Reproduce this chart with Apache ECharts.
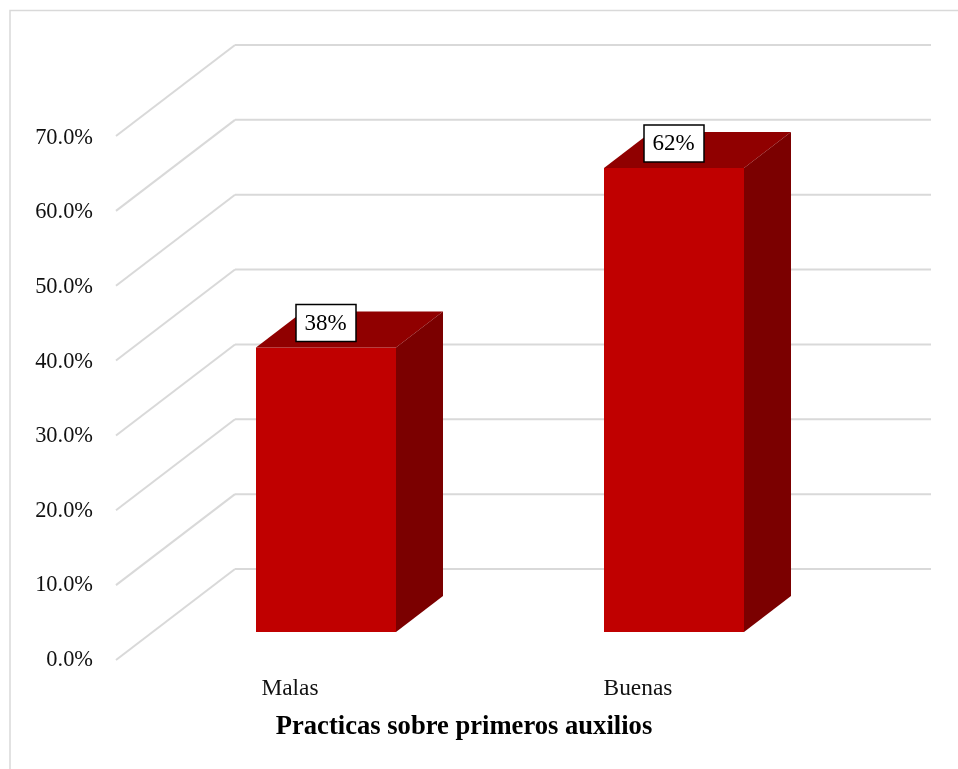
<!DOCTYPE html>
<html>
<head>
<meta charset="utf-8">
<style>html,body{margin:0;padding:0;background:#fff}#chart{width:958px;height:769px}</style>
<script src="https://cdn.jsdelivr.net/npm/echarts@6/dist/echarts.min.js"></script>
</head>
<body>
<div id="chart"></div>
<script>
const categories = ['Malas', 'Buenas'];
const percentages = [38, 62];
const percentTicks = [0, 10, 20, 30, 40, 50, 60, 70];
const axisTitle = 'Practicas sobre primeros auxilios';

// Oblique projection: how far the back wall and the bar faces sit from the front plane.
const WALL = { dx: 119, dy: -91 };
const BAR_FRONT = { dx: 36, dy: -28 };
const BAR_BACK = { dx: 83, dy: -64 };
const BAR_WIDTH = 140;
const FONT = '"Liberation Serif", "Times New Roman", serif';

function renderWall(params, api) {
  const sys = params.coordSys;
  const y = api.coord([0, api.value(1)])[1];
  const bx = sys.x + WALL.dx, by = y + WALL.dy;
  return {
    type: 'group',
    children: [
      { type: 'line', shape: { x1: sys.x, y1: y, x2: bx, y2: by },
        style: { stroke: '#d9d9d9', lineWidth: 2 } },
      { type: 'line', shape: { x1: bx, y1: by, x2: sys.x + sys.width + WALL.dx, y2: by },
        style: { stroke: '#d9d9d9', lineWidth: 2 } }
    ]
  };
}

function renderBar(params, api) {
  const value = api.value(1);
  const base = api.coord([api.value(0), 0]);
  const tip = api.coord([api.value(0), value]);
  const l = base[0] - BAR_WIDTH / 2 + BAR_FRONT.dx;
  const r = l + BAR_WIDTH;
  const b = base[1] + BAR_FRONT.dy;
  const t = tip[1] + BAR_FRONT.dy;
  const ox = BAR_BACK.dx - BAR_FRONT.dx;
  const oy = BAR_BACK.dy - BAR_FRONT.dy;
  const cx = (l + r) / 2;
  const cy = t - 25;
  return {
    type: 'group',
    children: [
      { type: 'rect', shape: { x: l, y: t, width: BAR_WIDTH, height: b - t },
        style: { fill: '#c00000' } },
      { type: 'polygon', shape: { points: [[l, t], [r, t], [r + ox, t + oy], [l + ox, t + oy]] },
        style: { fill: '#900000' } },
      { type: 'polygon', shape: { points: [[r, t], [r + ox, t + oy], [r + ox, b + oy], [r, b]] },
        style: { fill: '#7b0000' } },
      { type: 'rect', shape: { x: cx - 30, y: cy - 18, width: 60, height: 37 },
        style: { fill: '#fff', stroke: '#000', lineWidth: 1.5 } },
      { type: 'text', style: { x: cx - 0.5, y: cy + 1.5, text: value + '%', align: 'center', verticalAlign: 'middle',
        font: '23px ' + FONT, fill: '#000' } }
    ]
  };
}

const chart = echarts.init(document.getElementById('chart'), null, { renderer: 'canvas' });
chart.setOption({
  animation: false,
  backgroundColor: '#fff',
  graphic: [{
    type: 'polyline', silent: true, z: 0,
    shape: { points: [[10, 769], [10, 10.5], [958, 10.5]] },
    style: { stroke: '#d9d9d9', lineWidth: 1.5, fill: null }
  }],
  // First grid carries the marks, second one only the slightly tighter percent labels.
  grid: [
    { left: 116, top: 136, width: 696, height: 524 },
    { left: 116, top: 138, width: 696, height: 522 }
  ],
  xAxis: [{
    type: 'category', data: categories, gridIndex: 0,
    axisLine: { show: false }, axisTick: { show: false },
    axisLabel: { margin: 17, fontFamily: FONT, fontSize: 23.4, color: '#111' },
    name: axisTitle, nameLocation: 'middle', nameGap: 54,
    nameTextStyle: { fontFamily: FONT, fontSize: 26.6, fontWeight: 'bold', color: '#000' }
  }, {
    type: 'category', data: categories, gridIndex: 1, show: false
  }],
  yAxis: [{
    type: 'value', min: 0, max: 70, interval: 10, gridIndex: 0,
    axisLine: { show: false }, axisTick: { show: false }, splitLine: { show: false },
    axisLabel: { show: false }
  }, {
    type: 'value', min: 0, max: 70, interval: 10, gridIndex: 1,
    axisLine: { show: false }, axisTick: { show: false }, splitLine: { show: false },
    axisLabel: { margin: 23, fontFamily: FONT, fontSize: 22.4, color: '#111',
      formatter: v => v.toFixed(1) + '%' }
  }],
  series: [
    { type: 'custom', silent: true, clip: false, z: 1, renderItem: renderWall,
      xAxisIndex: 0, yAxisIndex: 0, data: percentTicks.map(v => [0, v]) },
    { type: 'custom', silent: true, clip: false, z: 2, renderItem: renderBar,
      xAxisIndex: 0, yAxisIndex: 0, data: percentages.map((v, i) => [i, v]) }
  ]
});
</script>
</body>
</html>
